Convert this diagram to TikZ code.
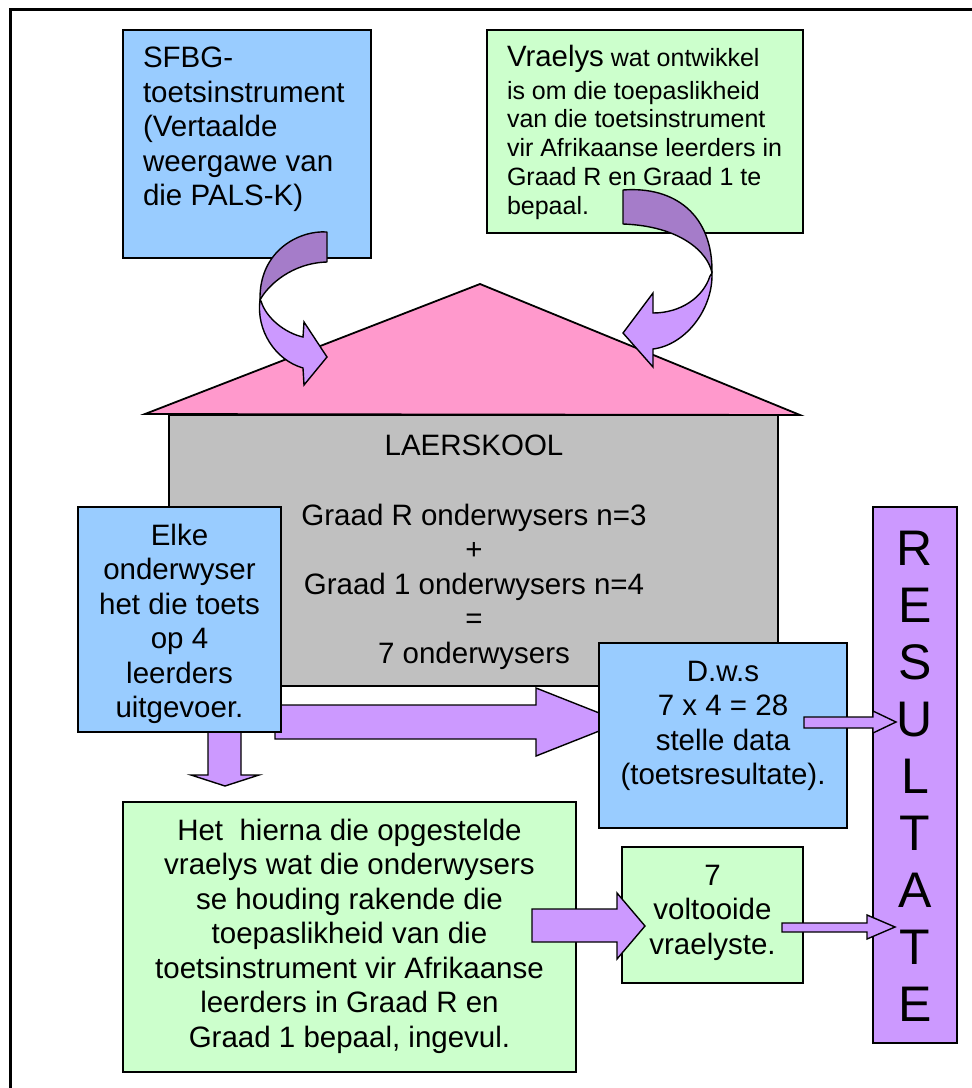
\documentclass[tikz,border=0pt]{standalone}
\usepackage{fontspec}
\setmainfont{Liberation Sans}

\definecolor{skyblue}{HTML}{99CCFF}
\definecolor{mint}{HTML}{CCFFCC}
\definecolor{roofpink}{HTML}{FF99CC}
\definecolor{wallgray}{HTML}{C0C0C0}
\definecolor{lilac}{HTML}{CC99FF}
\definecolor{lilacdark}{RGB}{165,124,201}

% multi-line text blocks whose reference point is the first baseline
\newcommand\ctext[1]{\begin{tabular}[t]{@{}c@{}}#1\end{tabular}}
\newcommand\ltext[1]{\begin{tabular}[t]{@{}l@{}}#1\end{tabular}}

\tikzset{
  panel/.style={rectangle, draw=black, line width=1.8pt, inner sep=0pt, outer sep=0pt},
  bluepanel/.style={panel, fill=skyblue},
  greenpanel/.style={panel, fill=mint},
  blockarrow/.style={draw=black, line width=1.4pt, fill=lilac, line join=miter},
  ribbonback/.style={draw=black, line width=1.4pt, fill=lilacdark, line join=round},
  ribbonfront/.style={draw=black, line width=1.4pt, fill=lilac, line join=miter},
  bodytext/.style={inner sep=0pt, outer sep=0pt, font=\fontsize{29.5}{34.5}\selectfont},
}

\begin{document}
\begin{tikzpicture}[x=1pt, y=-1pt]
\useasboundingbox (0,0) rectangle (972,1088);

% outer frame
\draw[line width=3pt] (10.8,1100) -- (10.8,9.7) -- (985,9.7);

% the school: roof and walls
\draw[line width=1.8pt, fill=roofpink, line join=miter] (145,414) -- (480,284) -- (800,415) -- cycle;
\node[panel, fill=wallgray, minimum width=609, minimum height=271] (house) at (473.5,550.5) {};
\node[bodytext, anchor=base] (housetext) at (474,455)
  {\ctext{LAERSKOOL}};
\node[bodytext, anchor=base] (counts) at (474,525)
  {\ctext{Graad R onderwysers n=3\\+\\Graad 1 onderwysers n=4\\=\\7 onderwysers}};

% the two input boxes
\node[bluepanel, minimum width=248, minimum height=228] (sfbg) at (247,144) {};
\node[bodytext, anchor=base west] (sfbgtext) at (143,67.5)
  {\ltext{SFBG-\\toetsinstrument\\(Vertaalde\\weergawe van\\die PALS-K)}};

\node[greenpanel, minimum width=316, minimum height=203] (vraelys) at (645,131.5) {};
\node[inner sep=0pt, outer sep=0pt, font=\fontsize{25}{28.8}\selectfont, anchor=base west] (vraelystext) at (507,66)
  {\ltext{{\fontsize{29.4}{34}\selectfont Vraelys} wat ontwikkel\\[4.2pt]
   is om die toepaslikheid\\van die toetsinstrument\\vir Afrikaanse leerders in\\Graad R en Graad 1 te\\bepaal.}};

% curved ribbon arrow from the test instrument into the roof
\draw[ribbonback] (327,232) .. controls (300,230) and (259,250) .. (260,300)
  .. controls (268,285) and (292,263) .. (327,262) -- cycle;
\draw[ribbonfront] (260,300) .. controls (256,330) and (275,360) .. (303,368)
  -- (304,385) -- (327,357) -- (304,322) -- (303,337)
  .. controls (285,333) and (266,318) .. (261,301) -- cycle;

% curved ribbon arrow from the questionnaire into the roof
\draw[ribbonback] (623,190) .. controls (675,186) and (713,215) .. (712,273)
  .. controls (708,252) and (680,226) .. (623,224) -- cycle;
\draw[ribbonfront] (712,273) .. controls (713,310) and (685,345) .. (653,349)
  -- (653,367) -- (623,333) -- (653,293) -- (653,313)
  .. controls (680,313) and (703,298) .. (710,276) -- cycle;

% block arrows leaving the teacher box
\draw[blockarrow] (275,705) -- (536,705) -- (536,688) -- (622,722) -- (536,756) -- (536,739) -- (275,739) -- cycle;
\draw[blockarrow] (208,726) -- (208,775) -- (191,775) -- (225,786) -- (259,775) -- (241,775) -- (241,726) -- cycle;

\node[bluepanel, minimum width=203, minimum height=225] (elke) at (179.5,619.5) {};
\node[bodytext, anchor=base] (elketext) at (179.5,545)
  {\ctext{Elke\\onderwyser\\het die toets\\op 4\\leerders\\uitgevoer.}};

\node[bluepanel, minimum width=248, minimum height=185] (dws) at (723,735.5) {};
\node[bodytext, anchor=base] (dwstext) at (723,681)
  {\ctext{D.w.s\\7 x 4 = 28\\stelle data\\(toetsresultate).}};

% results column
\node[panel, fill=lilac, minimum width=84, minimum height=536] (res) at (915,775) {};
\node[inner sep=0pt, outer sep=0pt, font=\fontsize{50}{57}\selectfont, anchor=base] (restext) at (915,565)
  {\ctext{R\\E\\S\\U\\L\\T\\A\\T\\E}};

\draw[blockarrow] (804,717) -- (873,717) -- (873,711) -- (896,722) -- (873,733) -- (873,728) -- (804,728) -- cycle;

% questionnaire completed by the teachers
\node[greenpanel, minimum width=453, minimum height=270] (ingevul) at (349.5,937) {};
\node[bodytext, anchor=base] (ingevultext) at (349.5,840)
  {\ctext{Het\ \ hierna die opgestelde\\vraelys wat die onderwysers\\se houding rakende die\\toepaslikheid van die\\toetsinstrument vir Afrikaanse\\leerders in Graad R en\\Graad 1 bepaal, ingevul.}};

\node[greenpanel, minimum width=181, minimum height=136] (sewe) at (712.5,915) {};
\node[bodytext, anchor=base] (sewetext) at (712.5,885)
  {\ctext{7\\voltooide\\vraelyste.}};

\draw[blockarrow] (532,909) -- (617,909) -- (617,893) -- (645,926) -- (617,959) -- (617,942) -- (532,942) -- cycle;
\draw[blockarrow] (782,923) -- (867,923) -- (867,915) -- (895,927) -- (867,939) -- (867,932) -- (782,932) -- cycle;
\end{tikzpicture}
\end{document}
